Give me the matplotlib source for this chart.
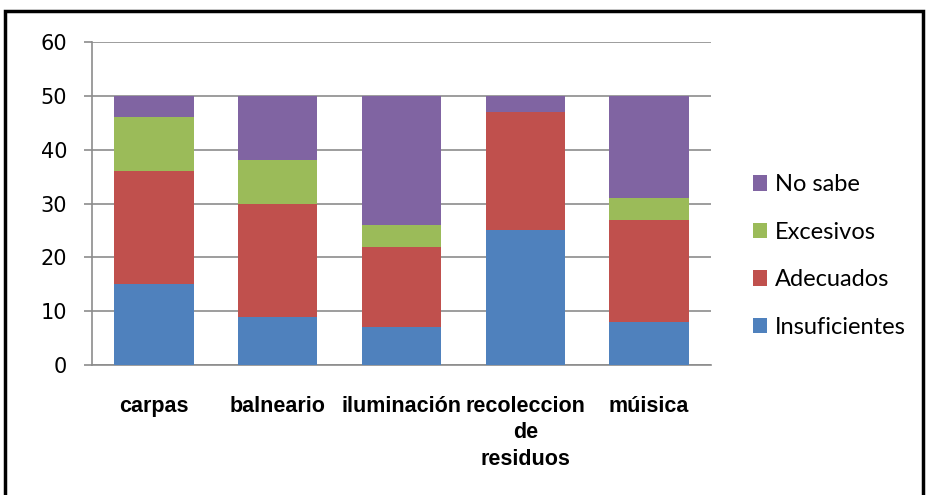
import matplotlib.pyplot as plt
import numpy as np
from matplotlib.patches import Rectangle

categorias = ['carpas', 'balneario', 'iluminación', 'recoleccion\nde\nresiduos', 'múisica']
insuficientes = [15, 9, 7, 25, 8]
adecuados = [21, 21, 15, 22, 19]
excesivos = [10, 8, 4, 0, 4]
no_sabe = [4, 12, 24, 3, 19]

series = [('Insuficientes', insuficientes, '#4F81BD'),
          ('Adecuados', adecuados, '#C0504D'),
          ('Excesivos', excesivos, '#9BBB59'),
          ('No sabe', no_sabe, '#8064A2')]

fig = plt.figure(figsize=(9.26, 4.95), dpi=100)
ax = fig.add_axes([92/926, 1 - 365/495, (711-92)/926, (365-42)/495])

x = np.arange(len(categorias))
bottom = np.zeros(len(categorias))
handles = []
for nombre, vals, color in series:
    b = ax.bar(x, vals, 0.64, bottom=bottom, color=color, label=nombre, zorder=3)
    handles.append(b)
    bottom += np.array(vals)

ax.set_xlim(-0.5, len(categorias) - 0.5)
ax.set_ylim(0, 60)
ax.set_yticks(range(0, 61, 10))
ax.yaxis.grid(True, color='#8c8c8c', linewidth=1.2, zorder=0)
ax.set_xticks(x)
ax.set_xticklabels(categorias, fontsize=15.5, family='Liberation Sans',
                   fontweight='bold', linespacing=1.35)
ax.tick_params(axis='x', length=0, pad=22)
ax.tick_params(axis='y', length=6, width=1.2, color='#8c8c8c', labelsize=15, pad=12)
for s in ['top', 'right']:
    ax.spines[s].set_visible(False)
for s in ['left', 'bottom']:
    ax.spines[s].set_color('#8c8c8c')
    ax.spines[s].set_linewidth(1.2)

leg = fig.legend(handles[::-1], [h.get_label() for h in handles[::-1]],
                 loc='center left', bbox_to_anchor=(741/926, 1 - 256/495),
                 frameon=False, prop={'family': 'Lato', 'size': 17}, borderpad=0,
                 labelspacing=1.12, handlelength=0.62, handleheight=0.62, handletextpad=0.3)

fig.patches.append(Rectangle((5/926, -0.05), 918/926, 1 - 11/495 + 0.05,
                             transform=fig.transFigure, fill=False,
                             edgecolor='black', linewidth=2.5))

fig.savefig('out.png', dpi=100)
